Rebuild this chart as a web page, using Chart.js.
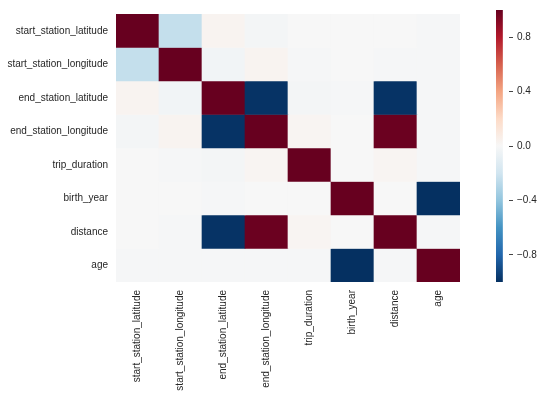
<!DOCTYPE html>
<html><head><meta charset="utf-8">
<script src="https://cdn.jsdelivr.net/npm/chart.js@4/dist/chart.umd.min.js"></script>
<style>
html,body{margin:0;padding:0;background:#fff;overflow:hidden}
#wrap{position:relative;width:543px;height:398px;background:#fff}
#main{position:absolute;left:0;top:0;width:470px;height:398px}
#cbar{position:absolute;left:470px;top:0;width:73px;height:398px}
</style></head><body>
<div id="wrap"><canvas id="main" width="470" height="398"></canvas><canvas id="cbar" width="73" height="398"></canvas></div>
<script>
const variables = ["start_station_latitude","start_station_longitude","end_station_latitude","end_station_longitude","trip_duration","birth_year","distance","age"];
const rowStartLat  = [ 1.00, -0.24,  0.03, -0.02,  0.00,  0.00,  0.00, -0.01];
const rowStartLon  = [-0.24,  1.00, -0.03,  0.03, -0.01,  0.00, -0.01, -0.01];
const rowEndLat    = [ 0.03, -0.03,  1.00, -0.99, -0.02, -0.01, -0.99, -0.01];
const rowEndLon    = [-0.02,  0.03, -0.99,  1.00,  0.02,  0.00,  0.99, -0.01];
const rowTrip      = [ 0.00, -0.01, -0.02,  0.02,  1.00,  0.00,  0.02, -0.01];
const rowBirth     = [ 0.00,  0.00, -0.01,  0.00,  0.00,  1.00,  0.00, -1.00];
const rowDistance  = [ 0.00, -0.01, -0.99,  0.99,  0.02,  0.00,  1.00, -0.01];
const rowAge       = [-0.01, -0.01, -0.01, -0.01, -0.01, -1.00, -0.01,  1.00];
const colorbarTicks = [-0.8, -0.4, 0.0, 0.4, 0.8];
const matrix = [rowStartLat,rowStartLon,rowEndLat,rowEndLon,rowTrip,rowBirth,rowDistance,rowAge];

const stops = ['#053061','#2166ac','#4393c3','#92c5de','#d1e5f0','#f7f7f7','#fddbc7','#f4a582','#d6604d','#b2182b','#67001f'];
function hex(h){return [parseInt(h.slice(1,3),16),parseInt(h.slice(3,5),16),parseInt(h.slice(5,7),16)];}
function cmap(v){
  let t=(v+1)/2; t=Math.max(0,Math.min(1,t));
  const p=t*(stops.length-1); const i=Math.min(Math.floor(p),stops.length-2); const f=p-i;
  const a=hex(stops[i]), b=hex(stops[i+1]);
  const c=a.map((x,k)=>Math.round(x+(b[k]-x)*f));
  return 'rgb('+c.join(',')+')';
}
Chart.defaults.font.family = '"Liberation Sans", Arial, sans-serif';
Chart.defaults.font.size = 10;
Chart.defaults.color = '#262626';

const datasets = matrix.map((row,i)=>({
  label: variables[i],
  data: row.map(()=>[i,i+1]),
  backgroundColor: row.map(v=>cmap(v)),
  borderWidth: 0,
  borderSkipped: false,
  barPercentage: 1,
  categoryPercentage: 1,
  grouped: false
}));

new Chart(document.getElementById('main'), {
  type: 'bar',
  data: {labels: variables, datasets},
  options: {
    responsive: false, animation: false,
    layout: {padding: {top: 10, right: 10, left: 0, bottom: 0}},
    plugins: {legend: {display: false}, tooltip: {enabled: false}},
    scales: {
      x: {
        type: 'category', offset: true,
        grid: {display: false, drawTicks: false}, border: {display: false},
        ticks: {maxRotation: 90, minRotation: 90, autoSkip: false, padding: 8},
        afterFit: s => { s.height = 116; }
      },
      y: {
        type: 'linear', min: 0, max: 8, reverse: true,
        grid: {display: false, drawTicks: false}, border: {display: false},
        afterBuildTicks: s => { s.ticks = variables.map((_,k)=>({value:k+0.5})); },
        ticks: {padding: 8, callback: v => variables[Math.floor(v)]},
        afterFit: s => { s.width = 116; }
      }
    }
  }
});

new Chart(document.getElementById('cbar'), {
  type: 'bar',
  data: {labels: [''], datasets: [{
    data: [[-1, 1]],
    borderWidth: 0, borderSkipped: false,
    barPercentage: 1, categoryPercentage: 1,
    backgroundColor: c => {
      const a = c.chart.chartArea; if (!a) return stops[5];
      const g = c.chart.ctx.createLinearGradient(0, a.bottom, 0, a.top);
      stops.forEach((s,k)=>g.addColorStop(k/(stops.length-1), s));
      return g;
    }
  }]},
  options: {
    responsive: false, animation: false,
    layout: {padding: {top: 10, left: 26, right: 0, bottom: 116}},
    plugins: {legend: {display: false}, tooltip: {enabled: false}},
    scales: {
      x: {display: false, offset: false},
      y: {
        position: 'right', min: -1, max: 1,
        grid: {drawOnChartArea: false, drawTicks: true, tickLength: 4, color: '#444444', lineWidth: 1},
        border: {display: false},
        afterBuildTicks: s => { s.ticks = colorbarTicks.map(v=>({value:v})); },
        ticks: {padding: 4, callback: v => v.toFixed(1).replace('-', '\u2212')},
        afterFit: s => { s.width = 34; }
      }
    }
  }
});
</script>
</body></html>
